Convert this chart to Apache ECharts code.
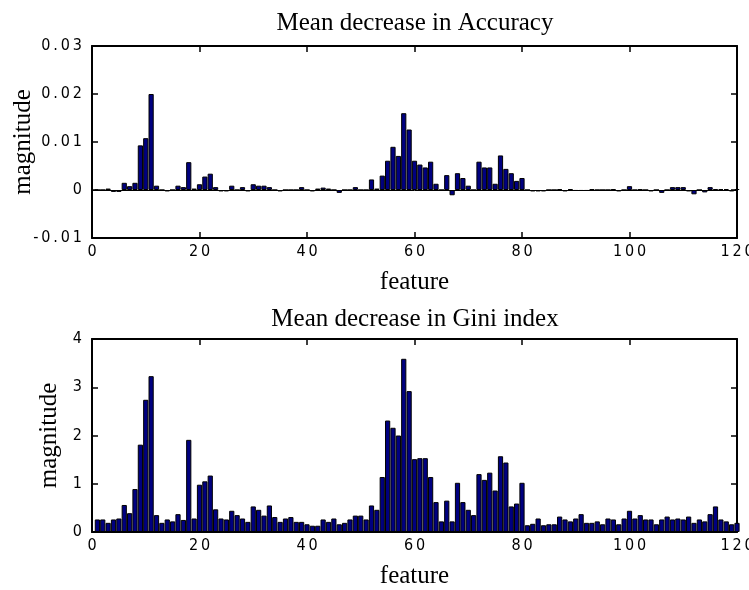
<!DOCTYPE html>
<html>
<head>
<meta charset="utf-8">
<script src="https://cdn.jsdelivr.net/npm/echarts@6/dist/echarts.min.js"></script>
<style>
html,body{margin:0;padding:0;background:#fff;}
#chart{width:749px;height:590px;}
</style>
</head>
<body>
<div id="chart"></div>
<script>
// ---- data ----
const features = Array.from({length: 120}, (_, i) => i + 1);

const accuracy = [
  0, 0, 0.0003, -0.0004, -0.0004, 0.0015, 0.0008, 0.0015, 0.0093, 0.0108,
  0.0200, 0.0009, 0, -0.0003, 0, 0.0009, 0.0006, 0.0058, 0.0003, 0.0012,
  0.0028, 0.0034, 0.0006, -0.0003, -0.0003, 0.0009, 0, 0.0006, -0.0003, 0.0012,
  0.0009, 0.0009, 0.0006, 0, -0.0003, 0, 0, 0, 0.0006, 0,
  -0.0003, 0.0003, 0.0005, 0.0003, 0, -0.0006, 0, 0, 0.0006, 0,
  0, 0.0022, 0.0003, 0.0030, 0.0061, 0.0090, 0.0071, 0.0160, 0.0126, 0.0061,
  0.0053, 0.0047, 0.0059, 0.0013, 0, 0.0031, -0.0011, 0.0035, 0.0025, 0.0009,
  0, 0.0059, 0.0047, 0.0047, 0.0013, 0.0072, 0.0044, 0.0035, 0.0019, 0.0025,
  0, -0.0003, -0.0003, -0.0003, 0, 0, 0.0002, -0.0003, 0.0002, -0.0002,
  -0.0002, -0.0002, 0.0002, 0, 0, 0, 0.0002, -0.0003, 0, 0.0008,
  0, 0.0002, 0, -0.0003, 0, -0.0006, 0, 0.0006, 0.0006, 0.0006,
  -0.0003, -0.0009, 0, -0.0005, 0.0006, 0.0002, 0.0002, 0.0002, -0.0003, 0.0002
];

const gini = [
  0.26, 0.26, 0.19, 0.26, 0.28, 0.56, 0.39, 0.89, 1.81, 2.74,
  3.23, 0.35, 0.19, 0.26, 0.22, 0.37, 0.25, 1.91, 0.28, 0.98,
  1.05, 1.17, 0.47, 0.28, 0.26, 0.44, 0.35, 0.28, 0.21, 0.53,
  0.46, 0.34, 0.55, 0.31, 0.21, 0.28, 0.31, 0.21, 0.21, 0.16,
  0.13, 0.13, 0.26, 0.21, 0.28, 0.16, 0.19, 0.26, 0.34, 0.34,
  0.26, 0.55, 0.46, 1.14, 2.31, 2.16, 2.00, 3.59, 2.92, 1.51,
  1.53, 1.53, 1.14, 0.62, 0.22, 0.65, 0.22, 1.02, 0.62, 0.46,
  0.35, 1.20, 1.08, 1.23, 0.86, 1.57, 1.44, 0.53, 0.59, 1.02,
  0.14, 0.17, 0.28, 0.14, 0.16, 0.16, 0.32, 0.26, 0.22, 0.28,
  0.37, 0.19, 0.19, 0.22, 0.16, 0.28, 0.26, 0.16, 0.28, 0.44,
  0.28, 0.35, 0.26, 0.26, 0.16, 0.26, 0.32, 0.26, 0.28, 0.26,
  0.32, 0.19, 0.26, 0.22, 0.37, 0.53, 0.26, 0.22, 0.16, 0.19
];

const xTicks = [0, 20, 40, 60, 80, 100, 120];
const accTicks = [-0.01, 0, 0.01, 0.02, 0.03];
const accTickLabels = ['-0.01', '0', '0.01', '0.02', '0.03'];
const giniTicks = [0, 1, 2, 3, 4];
const giniTickLabels = ['0', '1', '2', '3', '4'];

const titles = ['Mean decrease in Accuracy', 'Mean decrease in Gini index'];
const xName = 'feature';
const yName = 'magnitude';

// ---- chart ----
const tickFont = "'Liberation Sans Narrow', 'Arial Narrow', 'DejaVu Sans Condensed', sans-serif";
const serif = "'Liberation Serif', 'Times New Roman', serif";
const spaced = s => s.split('').join('\u2009');

function labelFor(ticks, labels) {
  return v => {
    for (let i = 0; i < ticks.length; i++) {
      if (Math.abs(ticks[i] - v) < 1e-9) return spaced(labels[i]);
    }
    return '';
  };
}

const lineStyle = {color: '#000', width: 2};
const tickStyle = {show: true, inside: true, length: 6, lineStyle: {color: '#000', width: 1.5}};

function xAxes(gridIndex) {
  return [
    {
      gridIndex, type: 'value', min: 0, max: 120, interval: 20, position: 'bottom',
      axisLine: {show: true, onZero: false, lineStyle},
      axisTick: tickStyle,
      axisLabel: {show: true, color: '#000', fontFamily: tickFont, fontSize: 16, margin: 6,
        formatter: labelFor(xTicks, xTicks.map(String))},
      splitLine: {show: false},
      name: xName, nameLocation: 'middle', nameGap: 32, nameMoveOverlap: false,
      nameTextStyle: {fontFamily: serif, fontSize: 25, color: '#000', verticalAlign: 'top'}
    },
    {
      gridIndex, type: 'value', min: 0, max: 120, interval: 20, position: 'top',
      axisLine: {show: true, onZero: false, lineStyle},
      axisTick: tickStyle, axisLabel: {show: false}, splitLine: {show: false}
    }
  ];
}

function yAxes(gridIndex, min, max, interval, ticks, labels, nameGap) {
  return [
    {
      gridIndex, type: 'value', min, max, interval, position: 'left',
      axisLine: {show: true, onZero: false, lineStyle},
      axisTick: tickStyle,
      axisLabel: {show: true, color: '#000', fontFamily: tickFont, fontSize: 16, margin: 10,
        formatter: labelFor(ticks, labels)},
      splitLine: {show: false},
      name: yName, nameLocation: 'middle', nameGap, nameRotate: 90, nameMoveOverlap: false,
      nameTextStyle: {fontFamily: serif, fontSize: 25, color: '#000'}
    },
    {
      gridIndex, type: 'value', min, max, interval, position: 'right',
      axisLine: {show: true, onZero: false, lineStyle},
      axisTick: tickStyle, axisLabel: {show: false}, splitLine: {show: false}
    }
  ];
}

const barStyle = {color: '#000080', borderColor: '#000', borderWidth: 1};

const option = {
  animation: false,
  backgroundColor: '#fff',
  title: [
    {text: titles[0], left: 410, top: 6, textAlign: 'center',
      textStyle: {fontFamily: serif, fontSize: 25, fontWeight: 'normal', color: '#000'}},
    {text: titles[1], left: 410, top: 302, textAlign: 'center',
      textStyle: {fontFamily: serif, fontSize: 25, fontWeight: 'normal', color: '#000'}}
  ],
  grid: [
    {left: 92, right: 12, top: 46, height: 192, outerBoundsMode: 'none', containLabel: false},
    {left: 92, right: 12, top: 339, height: 193, outerBoundsMode: 'none', containLabel: false}
  ],
  xAxis: [...xAxes(0), ...xAxes(1)],
  yAxis: [
    ...yAxes(0, -0.01, 0.03, 0.01, accTicks, accTickLabels, 56),
    ...yAxes(1, 0, 4, 1, giniTicks, giniTickLabels, 30)
  ],
  series: [
    {
      type: 'bar', xAxisIndex: 0, yAxisIndex: 0, barWidth: 5.2,
      data: features.map((f, i) => [f, accuracy[i]]),
      itemStyle: barStyle,
      markLine: {silent: true, symbol: 'none', label: {show: false},
        lineStyle: {color: '#000', width: 1, type: 'solid'},
        data: [{yAxis: 0}]}
    },
    {
      type: 'bar', xAxisIndex: 2, yAxisIndex: 2, barWidth: 5.2,
      data: features.map((f, i) => [f, gini[i]]),
      itemStyle: barStyle
    }
  ]
};

const chart = echarts.init(document.getElementById('chart'), null, {renderer: 'canvas'});
chart.setOption(option);
</script>
</body>
</html>
